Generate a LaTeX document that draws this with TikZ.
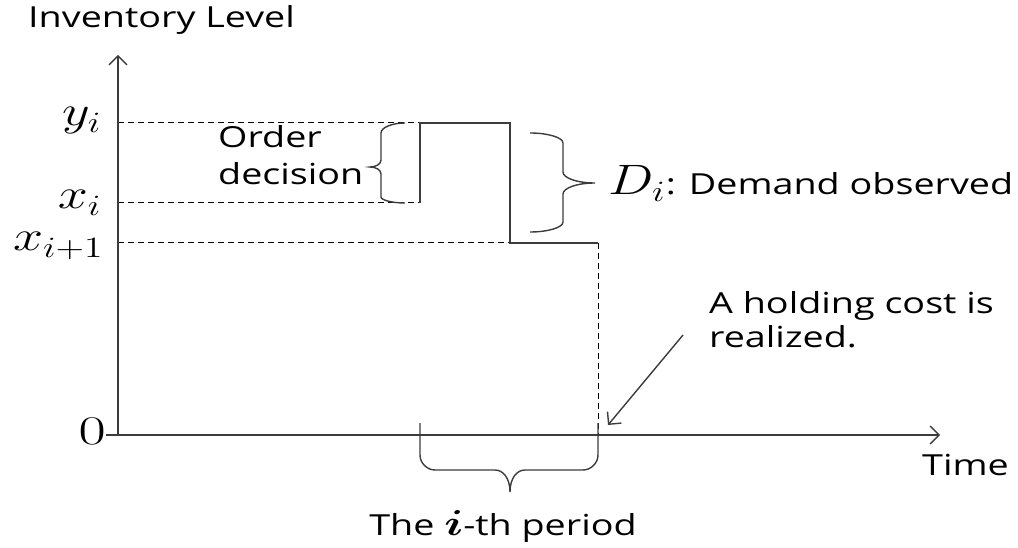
\documentclass[tikz,border=0pt]{standalone}
\usepackage{fontspec}
\setmainfont{Open Sans}
\usepackage{graphicx}
\usepackage{bm}
\usetikzlibrary{arrows.meta}
\definecolor{axisgray}{HTML}{3C3C3C}
\newcommand{\sx}[1]{\scalebox{1.3}[1]{#1}}
\newcommand{\tsize}{\fontsize{29}{34}\selectfont}
% math at 20.74pt (a standard size), then scaled up
\newcommand{\mathlab}[1]{\scalebox{2.6}[2.05]{\fontsize{20.74}{25}\selectfont #1}}
\newcommand{\zerolab}[1]{\scalebox{2.85}[1.96]{\fontsize{20.74}{25}\selectfont #1}}
\newcommand{\ilab}[1]{\scalebox{1.74}[1.74]{\fontsize{20.74}{25}\selectfont #1}}
\tikzset{
  txt/.style={inner sep=0pt, font=\tsize, text=black},
  mlab/.style={inner sep=0pt, text=black},
  barb/.style={-{Straight Barb[length=9pt,width=18pt,line width=1.4pt]}},
  axis/.style={draw=axisgray, line width=1.6pt, barb},
  guide/.style={draw=black, line width=1pt, dash pattern=on 6pt off 4pt},
  level/.style={draw=axisgray, line width=1.6pt},
  bracestyle/.style={draw=axisgray, line width=1.4pt},
  pointer/.style={draw=axisgray, line width=1.4pt, barb},
}
\begin{document}
\begin{tikzpicture}[x=1pt,y=-1pt]
\useasboundingbox (0,0) rectangle (1018,548);
% key points
\coordinate (O) at (118,435);
\coordinate (Ytop) at (118,55);
\coordinate (Xend) at (940,435);
\coordinate (Ayi) at (118,123);
\coordinate (Axi) at (118,203);
\coordinate (Axn) at (118,243);
\coordinate (S0) at (420,203);
\coordinate (S1) at (420,123);
\coordinate (S2) at (510,123);
\coordinate (S3) at (510,243);
\coordinate (S4) at (598,243);
\coordinate (T4) at (598,435);
\coordinate (Hs) at (683,335);
\coordinate (Ht) at (608,425);
% axis labels
\node[txt, anchor=base west] (ylab) at (28,28) {\sx{Inventory Level}};
\node[txt, anchor=base west] (tlab) at (922,475) {\sx{Time}};
\node[mlab, anchor=base east] (lyi) at (102,126) {\mathlab{$y_i$}};
\node[mlab, anchor=base east] (lxi) at (102,209) {\mathlab{$x_i$}};
\node[mlab, anchor=base east] (lxn) at (104,251) {\mathlab{$x_{i+1}$}};
\node[mlab, anchor=base east] (zero) at (106,444) {\zerolab{$0$}};
% dashed guides
\draw[guide] (Ayi) -- (S1);
\draw[guide] (Axi) -- (S0);
\draw[guide] (Axn) -- (S3);
\draw[guide] (S4) -- (T4);
% axes
\draw[axis] (O) -- (Ytop);
\draw[axis] (zero.east |- O) -- (Xend);
% inventory level
\draw[level] (S0) -- (S1) -- (S2) -- (S3) -- (S4);
% order decision brace
\draw[bracestyle] (405,123) .. controls (392,123) and (381,127.5) .. (381,133)
  -- (381,160) .. controls (381,164) and (376,167) .. (370,167)
  .. controls (376,167) and (381,170) .. (381,174)
  -- (381,197) .. controls (381,200) and (392,203) .. (405,203);
\node[txt, anchor=base west] (ord1) at (218,148) {\sx{Order}};
\node[txt, anchor=base west] (ord2) at (218,185) {\sx{decision}};
% demand brace
\draw[bracestyle] (530,133) .. controls (548,133) and (563,137.5) .. (563,143)
  -- (563,172) .. controls (563,178) and (577,183) .. (595,183)
  .. controls (577,183) and (563,188) .. (563,194)
  -- (563,222) .. controls (563,227.5) and (548,232) .. (530,232);
\node[txt, anchor=base west] (dem) at (608,195)
  {\mathlab{$D_i$}\sx{: Demand observed}};
% holding cost
\node[txt, anchor=base west] (hold1) at (709,313) {\sx{A holding cost is}};
\node[txt, anchor=base west] (hold2) at (709,347) {\sx{realized.}};
\draw[pointer] (Hs) -- (Ht);
% period brace
\draw[bracestyle] (420,423) -- (420,455) .. controls (420,463) and (427,470) .. (435,470)
  -- (495,470) .. controls (503,470) and (510,478) .. (510,492)
  .. controls (510,478) and (517,470) .. (525,470)
  -- (583,470) .. controls (591,470) and (598,463) .. (598,455) -- (598,423);
\node[txt, anchor=base] (per) at (503,535)
  {\sx{The \ilab{$\bm{i}$}-th period}};
\end{tikzpicture}
\end{document}
